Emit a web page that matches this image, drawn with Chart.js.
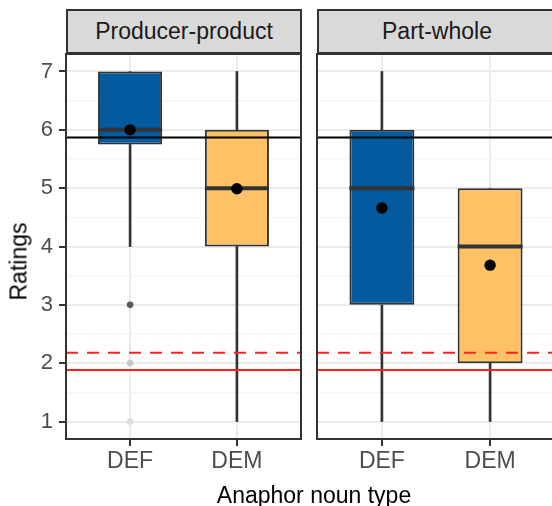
<!DOCTYPE html>
<html>
<head>
<meta charset="utf-8">
<script src="https://cdn.jsdelivr.net/npm/chart.js@4"></script>
<style>
  body { margin: 0; width: 552px; height: 506px; overflow: hidden; background: #fff; font-family: "Liberation Sans", Arial, sans-serif; position: relative; }
  .strip { position: absolute; top: 9px; height: 45px; box-sizing: border-box; border: 2px solid #333; background: #d9d9d9; color: #1a1a1a; font-size: 23px; line-height: 41px; text-align: center; }
  .panel { position: absolute; top: 34px; height: 450px; }
  #xtitle { position: absolute; left: 0; width: 628px; top: 482px; line-height: 27px; text-align: center; font-size: 23px; color: #000; }
  #ytitle { position: absolute; left: -41px; top: 248px; width: 120px; height: 27px; line-height: 27px; text-align: center; font-size: 23px; color: #000; transform: rotate(-90deg); }
</style>
</head>
<body>
<div class="strip" style="left:66px;width:236px">Producer-product</div>
<div class="strip" style="left:317px;width:240px">Part-whole</div>
<div class="panel" style="left:0;width:302px"><canvas id="chart1"></canvas></div>
<div class="panel" style="left:310px;width:262px"><canvas id="chart2"></canvas></div>
<div id="xtitle">Anaphor noun type</div>
<div id="ytitle">Ratings</div>
<script>
// categories and axis ticks
const CATEGORIES = ['DEF', 'DEM'];
const Y_TICKS = [1, 2, 3, 4, 5, 6, 7];
const Y_MINOR = [1.5, 2.5, 3.5, 4.5, 5.5, 6.5];

// Producer-product (DEF, DEM)
const prodLow = [4, 1];
const prodQ1 = [5.75, 4];
const prodMedian = [6, 5];
const prodQ3 = [7, 6];
const prodHigh = [7, 7];
const prodMean = [6.0, 4.99];
const prodOutliers = [3, 2, 1]; // all in DEF

// Part-whole (DEF, DEM)
const partLow = [1, 1];
const partQ1 = [3, 2];
const partMedian = [5, 4];
const partQ3 = [6, 5];
const partHigh = [7, 5];
const partMean = [4.66, 3.68];
const partOutliers = [];

// reference lines
const refBlack = 5.87;
const refRedDashed = 2.18;
const refRedSolid = 1.885;

const X_MIN = 0.4, X_MAX = 2.6;
const Y_MIN = 0.7, Y_MAX = 7.3;
const BOX_W = 0.6;
const FILLS = ['#035a9e', '#fec166'];
const OUTLIER_COLORS = ['#5b5b5b', '#c9c9c9', '#dedede'];

Chart.defaults.font.family = '"Liberation Sans", Arial, sans-serif';

// ggplot-like panel border drawn on top (right edge of the last panel is cropped)
const panelBorder = {
  id: 'panelBorder',
  afterDraw(chart, args, opts) {
    const { ctx, chartArea: a } = chart;
    ctx.save();
    ctx.strokeStyle = '#333';
    ctx.lineWidth = 2;
    ctx.beginPath();
    ctx.moveTo(a.right, a.top);
    ctx.lineTo(a.left, a.top);
    ctx.lineTo(a.left, a.bottom);
    ctx.lineTo(a.right, a.bottom);
    if (!opts.openRight) ctx.closePath();
    ctx.stroke();
    ctx.restore();
  }
};

function hline(y, color, dash, order) {
  return {
    type: 'line',
    data: [{ x: X_MIN, y: y }, { x: X_MAX, y: y }],
    borderColor: color,
    borderWidth: 2,
    borderDash: dash,
    pointRadius: 0,
    order: order
  };
}

function makeChart(id, f, first) {
  const xs = CATEGORIES.map((c, i) => i + 1);
  const whisker = {
    type: 'bar',
    backgroundColor: '#333',
    borderWidth: 0,
    grouped: false,
    maxBarThickness: 2,
    categoryPercentage: 1,
    barPercentage: 1,
    order: 6
  };

  const datasets = [
    Object.assign({ data: xs.map((x, i) => ({ x: x, y: [f.low[i], f.q1[i]] })) }, whisker),
    Object.assign({ data: xs.map((x, i) => ({ x: x, y: [f.q3[i], f.high[i]] })) }, whisker),
    {
      type: 'bar',
      data: xs.map((x, i) => ({ x: x, y: [f.q1[i], f.q3[i]] })),
      backgroundColor: FILLS,
      borderColor: '#333',
      borderWidth: 2,
      borderSkipped: false,
      grouped: false,
      categoryPercentage: 1,
      barPercentage: BOX_W,
      order: 5
    },
    {
      // median line
      type: 'scatter',
      data: xs.map((x, i) => ({ x: x, y: f.median[i] })),
      pointStyle: 'line',
      pointRadius: ctx => {
        const s = ctx.chart.scales.x;
        return s.getPixelForValue(1 + BOX_W / 2) - s.getPixelForValue(1);
      },
      pointBorderColor: '#333',
      pointBorderWidth: 4,
      order: 4
    },
    {
      type: 'scatter',
      data: f.outliers.map(v => ({ x: 1, y: v })),
      pointRadius: 3.3,
      pointBackgroundColor: OUTLIER_COLORS,
      pointBorderWidth: 0,
      order: 3
    },
    hline(refBlack, '#000', [], 2),
    hline(refRedDashed, '#ff2020', [12, 9], 2),
    hline(refRedSolid, '#ff2020', [], 2),
    {
      type: 'scatter',
      data: xs.map((x, i) => ({ x: x, y: f.mean[i] })),
      pointRadius: 5.7,
      pointBackgroundColor: '#000',
      pointBorderWidth: 0,
      order: 1
    }
  ];

  return new Chart(document.getElementById(id), {
    type: 'bar',
    data: { datasets: datasets },
    plugins: [panelBorder],
    options: {
      responsive: true,
      maintainAspectRatio: false,
      animation: false,
      events: [],
      layout: {
        autoPadding: false,
        padding: first ? { top: 20, right: 1, left: 0, bottom: 0 } : { top: 20, right: 17, left: 7, bottom: 0 }
      },
      plugins: {
        legend: { display: false },
        tooltip: { enabled: false },
        panelBorder: { openRight: !first }
      },
      scales: {
        x: {
          type: 'linear',
          min: X_MIN,
          max: X_MAX,
          offset: false,
          afterBuildTicks: s => { s.ticks = xs.map(v => ({ value: v })); },
          afterFit: s => { s.height = 45; },
          ticks: {
            callback: v => CATEGORIES[Math.round(v) - 1],
            color: '#4d4d4d',
            font: { size: 23 },
            padding: 2,
            maxRotation: 0,
            autoSkip: false
          },
          grid: { offset: false, color: '#ebebeb', lineWidth: 2, tickColor: '#333', tickLength: 7, tickWidth: 2 },
          border: { display: false }
        },
        y: {
          min: Y_MIN,
          max: Y_MAX,
          afterBuildTicks: s => {
            s.ticks = Y_TICKS.concat(Y_MINOR).sort((a, b) => a - b).map(v => ({ value: v }));
          },
          afterFit: s => { s.width = first ? 66 : 0; },
          ticks: {
            display: first,
            callback: v => Y_TICKS.includes(v) ? String(v) : '',
            color: '#4d4d4d',
            font: { size: 22 },
            padding: 6,
            autoSkip: false
          },
          grid: {
            color: c => Y_TICKS.includes(c.tick.value) ? '#ebebeb' : '#f4f4f4',
            lineWidth: c => Y_TICKS.includes(c.tick.value) ? 2 : 1.2,
            tickColor: c => Y_TICKS.includes(c.tick.value) ? '#333' : 'rgba(0,0,0,0)',
            drawTicks: first,
            tickLength: 7,
            tickWidth: 2
          },
          border: { display: false }
        }
      }
    }
  });
}

makeChart('chart1', {
  low: prodLow, q1: prodQ1, median: prodMedian, q3: prodQ3, high: prodHigh,
  mean: prodMean, outliers: prodOutliers
}, true);

makeChart('chart2', {
  low: partLow, q1: partQ1, median: partMedian, q3: partQ3, high: partHigh,
  mean: partMean, outliers: partOutliers
}, false);
</script>
</body>
</html>
